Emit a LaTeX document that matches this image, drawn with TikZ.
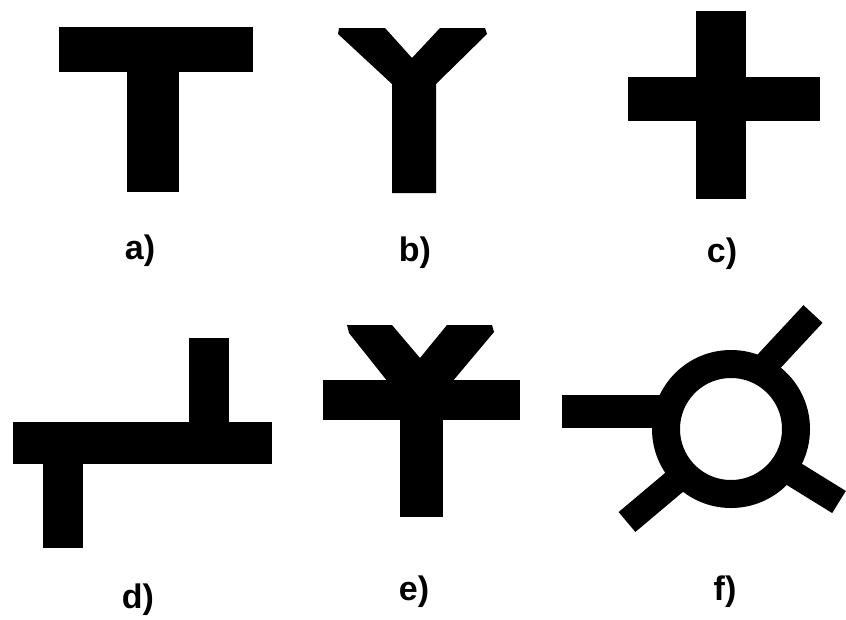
\documentclass[tikz,border=0pt]{standalone}
\usepackage{fontspec}
\setmainfont{Liberation Sans}
\begin{document}
\begin{tikzpicture}[x=1pt,y=-1pt,
  blk/.style={fill=black,draw=none},
  arm/.style={draw=black,line width=26pt,line cap=butt},
  ring/.style={draw=black,line width=28pt},
  lbl/.style={inner sep=0pt,font=\fontsize{34}{40}\selectfont\bfseries}]
\useasboundingbox[fill=white] (0,0) rectangle (846,619);
% a) T
\fill[blk] (59,27) rectangle (253,72);
\fill[blk] (127,71) rectangle (179,192);
\node[lbl] (la) at (140,251) {a)};
% b) Y
\fill[blk] (339,28) -- (385,28) -- (412,58) -- (440,28) -- (485,28) -- (487,34)
  -- (436,84) -- (436,193) -- (392,193) -- (392,84) -- (338,34) -- cycle;
\node[lbl] (lb) at (415,253) {b)};
% c) cross
\fill[blk] (696,11) rectangle (746,199);
\fill[blk] (628,77) rectangle (820,121);
\node[lbl] (lc) at (722,254) {c)};
% d) offset T
\fill[blk] (13,422) rectangle (272,464);
\fill[blk] (189,338) rectangle (229,423);
\fill[blk] (43,463) rectangle (83,548);
\node[lbl] (ld) at (138,600) {d)};
% e) Y with bar
\fill[blk] (347,325) -- (392,325) -- (420,358) -- (447,325) -- (492,325) -- (494,332)
  -- (452,382) -- (388,382) -- (349,333) -- cycle;
\fill[blk] (323,380) rectangle (520,420);
\fill[blk] (400,419) rectangle (443,517);
\node[lbl] (le) at (414,592) {e)};
% f) ring with branches
\coordinate (fc) at (731,429);
\fill[blk] (562,395) rectangle (672,428);
\draw[arm] (813,314) -- (760,371);
\draw[arm] (627,522) -- (684,474);
\draw[arm] (839,502) -- (784,468);
\draw[ring] (fc) circle (65pt);
\node[lbl] (lf) at (725,592) {f)};
\end{tikzpicture}
\end{document}
